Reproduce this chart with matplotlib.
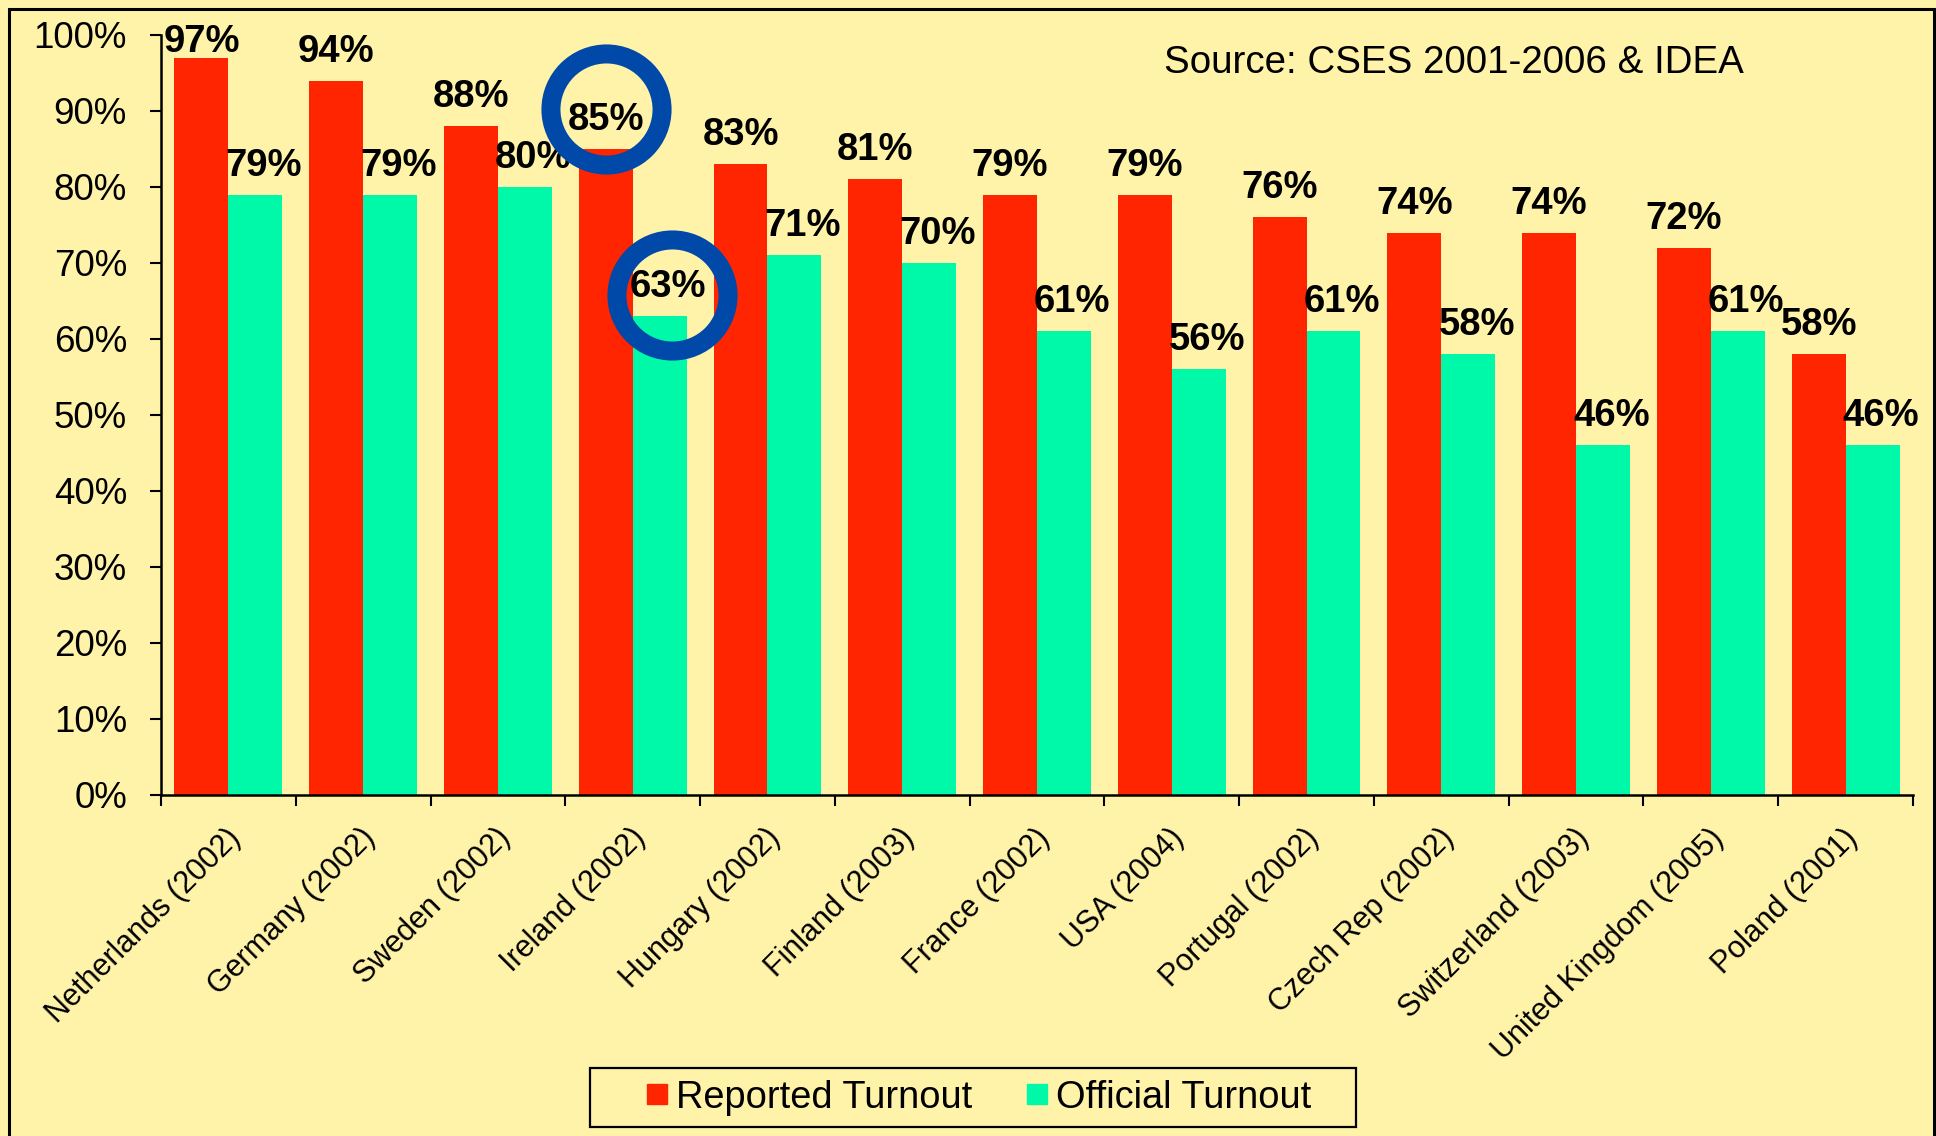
import numpy as np
import matplotlib
matplotlib.use("Agg")
import matplotlib.pyplot as plt
import matplotlib.transforms as mtransforms
from matplotlib.patches import Rectangle
from matplotlib.lines import Line2D

# ---------------------------------------------------------------
# data
# ---------------------------------------------------------------
countries = ["Netherlands (2002)", "Germany (2002)", "Sweden (2002)", "Ireland (2002)",
             "Hungary (2002)", "Finland (2003)", "France (2002)", "USA (2004)",
             "Portugal (2002)", "Czech Rep (2002)", "Switzerland (2003)",
             "United Kingdom (2005)", "Poland (2001)"]
reported = [97, 94, 88, 85, 83, 81, 79, 79, 76, 74, 74, 72, 58]
official = [79, 79, 80, 63, 71, 70, 61, 56, 61, 58, 46, 61, 46]

# rings drawn round some labels: (country, series)
highlights = [("Ireland (2002)", "reported"), ("Ireland (2002)", "official")]

source_text = "Source: CSES 2001-2006 & IDEA"

# ---------------------------------------------------------------
# style
# ---------------------------------------------------------------
BG = "#FFF3AA"
RED = "#FF2500"
GREEN = "#00F9A9"
BLUE = "#0049A8"
ring_nudge = [(0.5, 15), (3, 1.5)]   # points, per highlighted label

plt.rcParams["font.family"] = ["Liberation Sans", "DejaVu Sans"]

fig = plt.figure(figsize=(19.36, 11.36), dpi=100, facecolor=BG)
ax = fig.add_axes([161 / 1936, 1 - 795 / 1136, (1913 - 161) / 1936, (795 - 35) / 1136])
ax.set_facecolor(BG)

x = np.arange(len(countries))
w = 0.4
ax.bar(x - w / 2, reported, w, color=RED, label="Reported Turnout")
ax.bar(x + w / 2, official, w, color=GREEN, label="Official Turnout")

ax.set_xlim(-0.5, len(countries) - 0.5)
ax.set_ylim(0, 100)

# value labels
label_pos = {}
for i, (r, o) in enumerate(zip(reported, official)):
    yr = min(r + 2.5, 97.8)
    ax.annotate(f"{r}%", (x[i] - w / 2, yr), xytext=(0, 0), textcoords="offset points",
                ha="center", va="baseline", fontsize=27.5, fontweight="bold")
    label_pos[(countries[i], "reported")] = (x[i] - w / 2, yr, 0)
    yo = min(o + 2.5, 97.8)
    ax.annotate(f"{o}%", (x[i] + w / 2, yo), xytext=(6, 0), textcoords="offset points",
                ha="center", va="baseline", fontsize=27.5, fontweight="bold")
    label_pos[(countries[i], "official")] = (x[i] + w / 2, yo, 6)

# blue rings round the highlighted labels
for key, (ndx, ndy) in zip(highlights, ring_nudge):
    hx, hy, dx = label_pos[key]
    ring_tr = ax.transData + mtransforms.ScaledTranslation((dx + ndx) / 72, ndy / 72,
                                                           fig.dpi_scale_trans)
    ax.plot([hx], [hy], marker="o", markersize=80, mfc="none", mec=BLUE, mew=13.7,
            transform=ring_tr, clip_on=False, zorder=5)

# axes styling
for s in ["top", "right"]:
    ax.spines[s].set_visible(False)
for s in ["left", "bottom"]:
    ax.spines[s].set_linewidth(1.8)

ax.set_yticks(np.arange(0, 101, 10))
ax.set_yticklabels([f"{v}%" for v in range(0, 101, 10)], fontsize=26.5)
ax.tick_params(axis="y", direction="out", length=8, width=1.5, pad=16.5)

ax.set_xticks(np.arange(-0.5, len(countries), 1))
ax.set_xticklabels([])
ax.tick_params(axis="x", which="major", direction="out", length=8, width=1.5)
ax.set_xticks(x, minor=True)
ax.set_xticklabels(countries, minor=True, rotation=45, ha="right",
                   rotation_mode="anchor", fontsize=22)
ax.tick_params(axis="x", which="minor", length=0, pad=20)
shift = mtransforms.ScaledTranslation(-2 / 72, 0, fig.dpi_scale_trans)
for lab in ax.get_xticklabels(minor=True):
    lab.set_transform(lab.get_transform() + shift)

# source note
fig.text(1164 / 1936, 1 - 63 / 1136, source_text, fontsize=27.7, ha="left", va="center")

# legend with its own box
handles = [Line2D([], [], marker="s", linestyle="none", markersize=14, color=RED),
           Line2D([], [], marker="s", linestyle="none", markersize=14, color=GREEN)]
fig.legend(handles, ["Reported Turnout", "Official Turnout"], loc="center",
           bbox_to_anchor=(979.5 / 1936, 1 - 1097.5 / 1136), ncol=2, frameon=False,
           fontsize=27.4, handlelength=0.5, handletextpad=0.25, columnspacing=1.45)
fig.patches.append(Rectangle((590 / 1936, 1 - 1127 / 1136), 766 / 1936, 59 / 1136,
                             transform=fig.transFigure, fill=False, lw=1.6, ec="black"))

# outer frame
fig.patches.append(Rectangle((9 / 1936, -0.1), 1925 / 1936, 1.1 - 9 / 1136,
                             transform=fig.transFigure, fill=False, lw=2.2, ec="black"))

fig.savefig("out.png", dpi=100, facecolor=BG)
